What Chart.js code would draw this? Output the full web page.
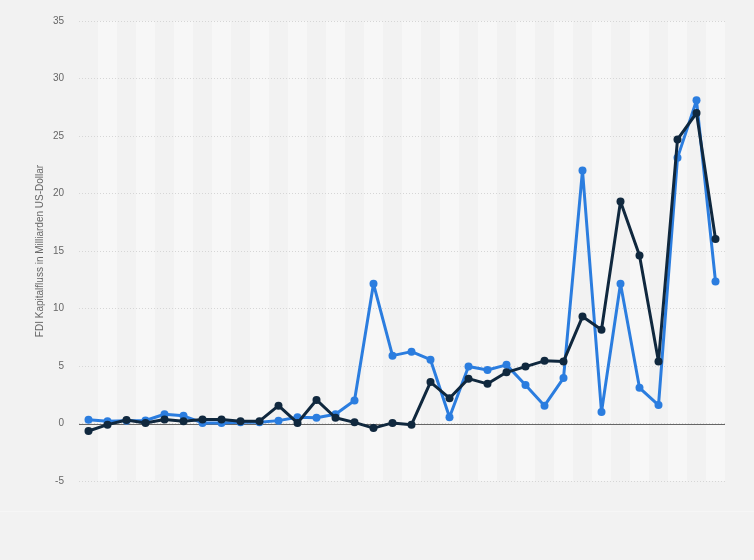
<!DOCTYPE html>
<html>
<head>
<meta charset="utf-8">
<script src="https://cdn.jsdelivr.net/npm/chart.js@4"></script>
<style>
  html, body { margin: 0; padding: 0; background: #f2f2f2; }
  #wrap { width: 754px; height: 560px; position: relative; }
</style>
</head>
<body>
<div id="wrap"><canvas id="chart1"></canvas></div>
<script>
// years are not shown on the axis in the original
const years = ['1981', '1982', '1983', '1984', '1985', '1986', '1987', '1988', '1989', '1990',
  '1991', '1992', '1993', '1994', '1995', '1996', '1997', '1998', '1999', '2000',
  '2001', '2002', '2003', '2004', '2005', '2006', '2007', '2008', '2009', '2010',
  '2011', '2012', '2013', '2014'];

const zufluss = [0.32, 0.2, 0.25, 0.26, 0.8, 0.67, 0.05, 0.05, 0.1, 0.1,
  0.25, 0.55, 0.5, 0.8, 2.0, 12.15, 5.9, 6.25, 5.55, 0.55,
  4.95, 4.65, 5.1, 3.35, 1.55, 3.95, 22.0, 1.0, 12.15, 3.1,
  1.6, 23.1, 28.1, 12.35];

const abfluss = [-0.65, -0.1, 0.3, 0.05, 0.35, 0.2, 0.35, 0.35, 0.2, 0.2,
  1.55, 0.05, 2.05, 0.5, 0.1, -0.4, 0.05, -0.1, 3.6, 2.2,
  3.9, 3.45, 4.45, 4.95, 5.45, 5.4, 9.3, 8.15, 19.3, 14.6,
  5.4, 24.7, 27.0, 16.05];

const yTicks = [-5, 0, 5, 10, 15, 20, 25, 30, 35];

const stripes = {
  id: 'stripes',
  beforeDraw(chart) {
    const {ctx, chartArea, scales} = chart;
    ctx.save();
    ctx.fillStyle = '#f2f2f2';
    ctx.fillRect(0, 0, chart.width, chart.height);
    const w = chartArea.width / years.length;
    ctx.fillStyle = '#f7f7f7';
    years.forEach((y, i) => {
      if (i % 2 === 1) {
        const x = scales.x.getPixelForValue(i);
        ctx.fillRect(x - w / 2, chartArea.top, w, chartArea.height);
      }
    });
    ctx.strokeStyle = '#f6f6f6';
    ctx.beginPath();
    ctx.moveTo(0, 511.5);
    ctx.lineTo(chart.width, 511.5);
    ctx.stroke();
    ctx.restore();
  },
  beforeDatasetsDraw(chart) {
    const {ctx, chartArea, scales} = chart;
    const y0 = Math.round(scales.y.getPixelForValue(0)) + 0.5;
    ctx.save();
    ctx.strokeStyle = '#666666';
    ctx.lineWidth = 1;
    ctx.beginPath();
    ctx.moveTo(chartArea.left, y0);
    ctx.lineTo(chartArea.right, y0);
    ctx.stroke();
    ctx.restore();
  }
};

const ctx1 = document.getElementById('chart1').getContext('2d');
const chart1 = new Chart(ctx1, {
  type: 'line',
  data: {
    labels: years,
    datasets: [{
      label: 'Abfluss',
      data: abfluss,
      borderColor: '#10283e',
      backgroundColor: '#10283e',
      borderWidth: 3,
      borderJoinStyle: 'round',
      borderCapStyle: 'round',
      pointRadius: 4,
      pointBorderWidth: 0,
      pointHoverRadius: 4,
      tension: 0
    }, {
      label: 'Zufluss',
      data: zufluss,
      borderColor: '#2b7ddf',
      backgroundColor: '#2b7ddf',
      borderWidth: 3,
      borderJoinStyle: 'round',
      borderCapStyle: 'round',
      pointRadius: 4,
      pointBorderWidth: 0,
      pointHoverRadius: 4,
      tension: 0
    }]
  },
  options: {
    responsive: true,
    maintainAspectRatio: false,
    animation: false,
    layout: { padding: { top: 20, right: 29, bottom: 79, left: 0 } },
    plugins: { legend: { display: false }, tooltip: { enabled: false } },
    scales: {
      x: {
        display: false,
        offset: true
      },
      y: {
        min: -5,
        max: 35,
        afterBuildTicks(scale) {
          scale.ticks = yTicks.map(v => ({ value: v }));
        },
        afterFit(scale) {
          scale.width = 79;
        },
        grid: {
          color: '#d6d6d6',
          drawTicks: false
        },
        border: { display: false, dash: [1, 2] },
        ticks: {
          color: '#666666',
          padding: 15,
          font: { family: 'Liberation Sans, Arial, sans-serif', size: 10 }
        },
        title: {
          display: true,
          text: 'FDI Kapitalfluss in Milliarden US-Dollar',
          color: '#666666',
          padding: { top: 34, bottom: 0 },
          font: { family: 'Liberation Sans, Arial, sans-serif', size: 10 }
        }
      }
    }
  },
  plugins: [stripes]
});
</script>
</body>
</html>
